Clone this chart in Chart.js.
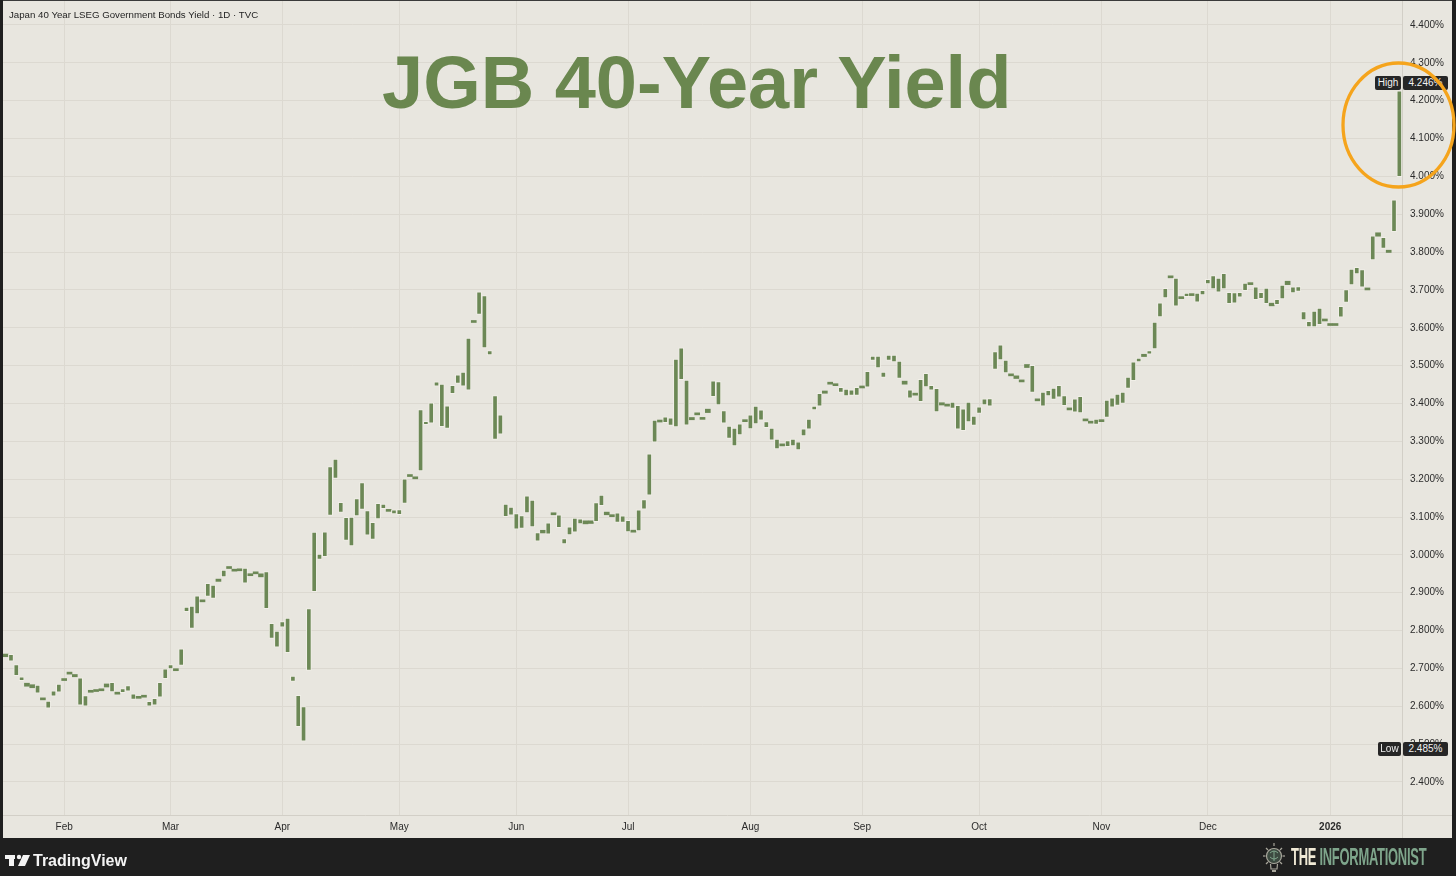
<!DOCTYPE html>
<html>
<head>
<meta charset="utf-8">
<script src="https://cdn.jsdelivr.net/npm/chart.js@4.4.1/dist/chart.umd.min.js"></script>
<style>
html,body{margin:0;padding:0;background:#1f1f1f;width:1456px;height:876px;overflow:hidden;font-family:"Liberation Sans",Arial,sans-serif;}
#panel{position:absolute;left:3px;top:0;width:1449px;height:838px;background:#e8e6df;}
#chart{position:absolute;left:0;top:0;}
#subtitle{position:absolute;left:6px;top:8px;font-size:9.7px;line-height:13px;color:#1e1e1e;white-space:nowrap;}
#title{position:absolute;left:382px;top:46px;font-size:74px;line-height:74px;font-weight:bold;color:#6a874f;white-space:nowrap;}
.tag{position:absolute;height:14px;line-height:14px;font-size:10px;color:#f2f2f2;background:#262626;text-align:center;border-radius:2px;white-space:nowrap;}
#tvtext{position:absolute;left:33px;top:851px;font-size:16px;line-height:20px;font-weight:bold;color:#f4f4f4;white-space:nowrap;}
#info{position:absolute;left:1291px;top:844px;height:26px;font-size:24px;line-height:26px;font-weight:bold;white-space:nowrap;transform-origin:0 50%;transform:scaleX(0.54);letter-spacing:-0.5px;}
#info .the{color:#f1ead6;}
#info .inf{color:#7ea58b;}
svg.ov{position:absolute;left:0;top:0;overflow:visible;}
</style>
</head>
<body>
<div id="panel">
  <canvas id="chart" width="1449" height="838"></canvas>
  <div id="subtitle">Japan 40 Year LSEG Government Bonds Yield · 1D · TVC</div>
</div>
<div id="title">JGB 40-Year Yield</div>
<div class="tag" style="left:1375px;top:76px;width:26px;">High</div>
<div class="tag" style="left:1403px;top:76px;width:45px;">4.246%</div>
<div class="tag" style="left:1378px;top:742px;width:23px;">Low</div>
<div class="tag" style="left:1403px;top:742px;width:45px;">2.485%</div>
<svg class="ov" width="1456" height="876">
  <ellipse cx="1398.5" cy="125" rx="55.5" ry="62" fill="none" stroke="#f5a41c" stroke-width="3.3"/>
  <rect x="5" y="855" width="10" height="4" fill="#f4f4f4"/>
  <rect x="9" y="855" width="5" height="11" fill="#f4f4f4"/>
  <circle cx="19" cy="857" r="2.2" fill="#f4f4f4"/>
  <polygon points="23,855 30,855 25,866 18,866" fill="#f4f4f4"/>
  <g stroke="#a9a79c" stroke-width="1.2" fill="none">
    <circle cx="1274" cy="856" r="7.5" fill="#3c4a40"/>
    <path d="M1270.5 864 L1271 869 L1277 869 L1277.5 864"/>
    <line x1="1274" y1="843" x2="1274" y2="846"/>
    <line x1="1263" y1="856" x2="1265.5" y2="856"/>
    <line x1="1282.5" y1="856" x2="1285" y2="856"/>
    <line x1="1266" y1="848" x2="1268" y2="850"/>
    <line x1="1282" y1="848" x2="1280" y2="850"/>
    <line x1="1266" y1="864" x2="1268" y2="862"/>
    <line x1="1282" y1="864" x2="1280" y2="862"/>
  </g>
  <path d="M1272 871 L1276 871" stroke="#a9a79c" stroke-width="2"/>
  <path d="M1270 853 Q1274 849 1278 853 M1270 857 Q1274 861 1278 857 M1274 851 L1274 861" stroke="#7ea58b" stroke-width="1" fill="none"/>
</svg>
<div id="tvtext">TradingView</div>
<div id="info"><span class="the">THE</span> <span class="inf">INFORMATIONIST</span></div>

<script>
// ---- data ----
const firstDay = '2025-01-17';
const lastDay = '2026-01-20';
const monthNames = ['Jan','Feb','Mar','Apr','May','Jun','Jul','Aug','Sep','Oct','Nov','Dec'];
const yTicks = [2.4,2.5,2.6,2.7,2.8,2.9,3.0,3.1,3.2,3.3,3.4,3.5,3.6,3.7,3.8,3.9,4.0,4.1,4.2,4.3,4.4];
// daily body ranges [low of open/close, high of open/close], % yield
const bodies = [
[2.731,2.738],[2.719,2.737],[2.681,2.710],[2.668,2.678],[2.653,2.661],[2.649,2.657],[2.635,2.656],[2.617,2.622],[2.595,2.614],[2.627,2.641],
[2.637,2.659],[2.668,2.671],[2.685,2.689],[2.678,2.684],[2.603,2.675],[2.600,2.628],[2.637,2.641],[2.639,2.641],[2.641,2.644],[2.651,2.659],
[2.638,2.663],[2.632,2.637],[2.636,2.647],[2.640,2.655],[2.618,2.633],[2.621,2.623],[2.624,2.627],[2.600,2.613],[2.603,2.621],[2.624,2.663],
[2.673,2.699],[2.699,2.710],[2.694,2.699],[2.708,2.752],[2.850,2.862],[2.806,2.865],[2.844,2.892],[2.876,2.881],[2.890,2.925],[2.885,2.920],
[2.930,2.936],[2.942,2.960],[2.964,2.968],[2.957,2.962],[2.958,2.960],[2.925,2.965],[2.945,2.948],[2.950,2.951],[2.942,2.950],[2.858,2.956],
[2.779,2.819],[2.756,2.799],[2.809,2.824],[2.742,2.833],[2.666,2.680],[2.546,2.629],[2.508,2.599],[2.695,2.858],[2.903,3.060],[2.988,3.002],
[2.995,3.061],[3.104,3.233],[3.202,3.253],[3.112,3.139],[3.038,3.099],[3.024,3.100],[3.103,3.149],[3.120,3.191],[3.052,3.117],[3.041,3.086],
[3.095,3.136],[3.122,3.134],[3.115,3.119],[3.108,3.119],[3.106,3.120],[3.136,3.201],[3.207,3.209],[3.201,3.204],[3.222,3.384],[3.344,3.353],
[3.348,3.402],[3.446,3.457],[3.339,3.451],[3.334,3.394],[3.426,3.448],[3.453,3.476],[3.446,3.483],[3.435,3.573],[3.614,3.619],[3.635,3.695],
[3.547,3.685],[3.528,3.540],[3.305,3.421],[3.319,3.370],[3.101,3.134],[3.105,3.126],[3.068,3.109],[3.070,3.104],[3.111,3.156],[3.074,3.145],
[3.036,3.059],[3.058,3.065],[3.055,3.085],[3.106,3.109],[3.072,3.106],[3.029,3.043],[3.053,3.074],[3.060,3.097],[3.082,3.095],[3.082,3.090],
[3.083,3.090],[3.088,3.138],[3.130,3.158],[3.106,3.113],[3.101,3.106],[3.086,3.111],[3.086,3.103],[3.061,3.091],[3.060,3.064],[3.063,3.119],
[3.121,3.146],[3.158,3.267],[3.298,3.356],[3.351,3.356],[3.349,3.365],[3.342,3.362],[3.338,3.517],[3.463,3.547],[3.343,3.462],[3.357,3.363],
[3.370,3.375],[3.358,3.362],[3.376,3.385],[3.418,3.460],[3.396,3.458],[3.348,3.381],[3.308,3.340],[3.288,3.335],[3.317,3.346],[3.352,3.355],
[3.333,3.370],[3.346,3.393],[3.356,3.383],[3.336,3.352],[3.303,3.335],[3.280,3.306],[3.288,3.290],[3.286,3.302],[3.288,3.306],[3.277,3.299],
[3.314,3.333],[3.332,3.359],[3.383,3.393],[3.393,3.427],[3.427,3.433],[3.451,3.454],[3.447,3.450],[3.429,3.443],[3.420,3.438],[3.421,3.436],
[3.421,3.443],[3.441,3.446],[3.443,3.485],[3.514,3.525],[3.494,3.525],[3.469,3.483],[3.514,3.528],[3.510,3.528],[3.466,3.512],[3.451,3.459],
[3.414,3.436],[3.422,3.426],[3.405,3.464],[3.444,3.480],[3.435,3.448],[3.378,3.440],[3.396,3.402],[3.393,3.396],[3.387,3.404],[3.332,3.395],
[3.328,3.386],[3.351,3.404],[3.342,3.367],[3.374,3.391],[3.396,3.412],[3.393,3.413],[3.490,3.537],[3.515,3.555],[3.481,3.515],[3.473,3.478],
[3.466,3.473],[3.457,3.459],[3.495,3.503],[3.429,3.501],[3.407,3.411],[3.393,3.430],[3.420,3.435],[3.411,3.441],[3.417,3.448],[3.394,3.421],
[3.383,3.387],[3.377,3.412],[3.375,3.419],[3.354,3.357],[3.348,3.352],[3.345,3.359],[3.352,3.354],[3.363,3.409],[3.390,3.415],[3.395,3.425],
[3.400,3.430],[3.440,3.470],[3.460,3.510],[3.510,3.520],[3.524,3.530],[3.530,3.540],[3.544,3.615],[3.629,3.666],[3.679,3.704],[3.732,3.735],
[3.657,3.731],[3.677,3.680],[3.682,3.692],[3.685,3.690],[3.668,3.692],[3.687,3.699],[3.716,3.728],[3.703,3.738],[3.694,3.731],[3.703,3.744],
[3.664,3.694],[3.665,3.693],[3.681,3.694],[3.698,3.718],[3.714,3.717],[3.674,3.708],[3.677,3.694],[3.664,3.705],[3.658,3.665],[3.661,3.675],
[3.676,3.713],[3.714,3.723],[3.692,3.708],[3.696,3.709],[3.621,3.643],[3.602,3.617],[3.602,3.644],[3.608,3.652],[3.618,3.620],[3.606,3.609],
[3.606,3.609],[3.628,3.657],[3.667,3.701],[3.713,3.755],[3.742,3.760],[3.707,3.754],[3.700,3.702],[3.779,3.843],[3.842,3.851],[3.810,3.839],
[3.799,3.805],[3.854,3.938],[3.999,4.226]
];

// ---- category labels: weekdays between first and last day ----
function weekdayList(a, b) {
  const out = [];
  const [ya, ma, da] = a.split('-').map(Number);
  const [yb, mb, db] = b.split('-').map(Number);
  let t = Date.UTC(ya, ma - 1, da);
  const end = Date.UTC(yb, mb - 1, db);
  while (t <= end) {
    const d = new Date(t);
    const wd = d.getUTCDay();
    if (wd !== 0 && wd !== 6) out.push(d.toISOString().slice(0, 10));
    t += 86400000;
  }
  return out;
}
const days = weekdayList(firstDay, lastDay);

function monthLabel(i) {
  if (i === 0 || i >= days.length) return '';
  const m = days[i].slice(5, 7), pm = days[i - 1].slice(5, 7);
  if (m === pm) return '';
  return m === '01' ? days[i].slice(0, 4) : monthNames[Number(m) - 1];
}

const bg = {
  id: 'bg',
  beforeDraw(c) {
    const ctx = c.ctx;
    ctx.save();
    ctx.fillStyle = '#e8e6df';
    ctx.fillRect(0, 0, c.width, c.height);
    ctx.restore();
  },
  afterDraw(c) {
    const ctx = c.ctx, a = c.chartArea;
    ctx.save();
    ctx.strokeStyle = '#d2cfc7';
    ctx.lineWidth = 1;
    ctx.beginPath();
    ctx.moveTo(0, a.bottom + 0.5); ctx.lineTo(c.width, a.bottom + 0.5);
    ctx.moveTo(a.right + 0.5, 0); ctx.lineTo(a.right + 0.5, c.height);
    ctx.stroke();
    ctx.fillStyle = '#3a3a3a';
    ctx.fillRect(0, 0, c.width, 1);
    ctx.restore();
  }
};

Chart.defaults.font.family = '"Liberation Sans", Arial, sans-serif';

new Chart(document.getElementById('chart'), {
  type: 'bar',
  data: {
    labels: days,
    datasets: [{
      data: bodies,
      backgroundColor: '#6c8856',
      borderColor: '#f1efe8',
      borderWidth: (ctx) => {
        const v = ctx.raw;
        return v && Math.abs(v[1] - v[0]) > 0.009 ? 1 : 0;
      },
      borderSkipped: false,
      barThickness: 5,
      minBarLength: 2
    }]
  },
  options: {
    responsive: false,
    animation: false,
    devicePixelRatio: 1,
    layout: { padding: 0 },
    plugins: { legend: { display: false }, tooltip: { enabled: false }, title: { display: false } },
    scales: {
      x: {
        type: 'category',
        offset: true,
        border: { display: false },
        grid: {
          offset: false,
          drawTicks: false,
          color: (ctx) => (ctx.index !== undefined && monthLabel(ctx.index) !== '' ? '#dcd9d1' : 'rgba(0,0,0,0)')
        },
        ticks: {
          autoSkip: false,
          maxRotation: 0,
          minRotation: 0,
          padding: 6,
          color: '#2b2b2b',
          font: (ctx) => ({ size: 10, weight: (ctx.tick && /^\d{4}$/.test(ctx.tick.label)) ? 'bold' : 'normal' }),
          callback: (v, i) => monthLabel(i)
        },
        afterFit: (s) => { s.height = 23; s.paddingLeft = 0; s.paddingRight = 0; s.paddingTop = 0; s.paddingBottom = 0; }
      },
      y: {
        position: 'right',
        min: 2.3128,
        max: 4.466,
        border: { display: false },
        grid: { color: '#dcd9d1', drawTicks: false },
        afterBuildTicks: (s) => { s.ticks = yTicks.map(v => ({ value: v })); },
        ticks: {
          padding: 8,
          color: '#2b2b2b',
          font: { size: 10 },
          callback: (v) => Number(v).toFixed(3) + '%'
        },
        afterFit: (s) => { s.width = 50; s.paddingTop = 0; s.paddingBottom = 0; s.paddingLeft = 0; s.paddingRight = 0; }
      }
    }
  },
  plugins: [bg]
});
</script>
</body>
</html>
